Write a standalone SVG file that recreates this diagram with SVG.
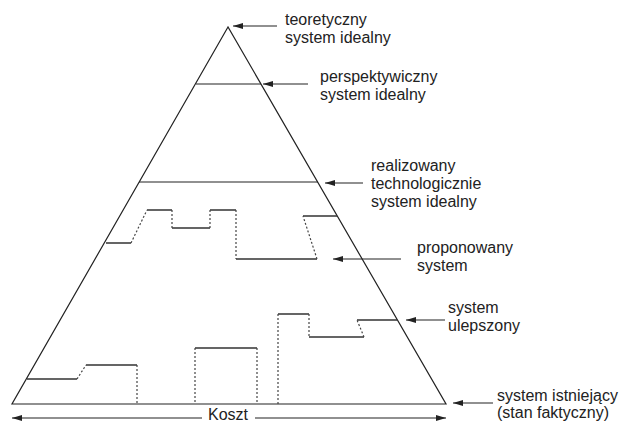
<svg xmlns="http://www.w3.org/2000/svg" width="621" height="421" viewBox="0 0 621 421">
<style>
.ln{stroke:#222;stroke-width:1.2;fill:none}
.st{stroke:#333;stroke-width:1.3;fill:none}
.dt{stroke:#444;stroke-width:1.2;fill:none;stroke-dasharray:2,2}
.ar{stroke:#222;stroke-width:1.1;fill:none;marker-end:url(#ah)}
text{font-family:"Liberation Sans",Arial,sans-serif;font-size:16px;fill:#222}
</style>
<defs>
<marker id="ah" viewBox="0 0 10 6" refX="10" refY="3" markerWidth="10" markerHeight="6" markerUnits="userSpaceOnUse" orient="auto">
<path d="M0,0 L10,3 L0,6 Z" fill="#222"/>
</marker>
</defs>
<rect width="621" height="421" fill="#fff"/>
<g id="pyramid">
<path class="ln" d="M228,27 L12,404 L446,404 Z"/>
<line class="ln" x1="196" y1="84" x2="261" y2="84"/>
<line class="ln" x1="139" y1="182" x2="318" y2="182"/>
</g>
<g id="proponowany-steps">
<path class="st" d="M106,243 H131 M147,210 H172 M172,228 H210 M210,210 H236 M236,259 H317 M303,216 H337"/>
<path class="dt" d="M131,243 L147,210 M172,210 V228 M210,228 V210 M236,210 V259 M317,259 L303,216"/>
</g>
<g id="ulepszony-steps">
<path class="st" d="M278,314 H309 M309,337 H364 M357,320 H397"/>
<path class="dt" d="M278,314 V404 M309,314 V337 M364,337 L357,320"/>
</g>
<g id="istniejacy-steps">
<path class="st" d="M27,379 H77 M86,365 H137 M195,348 H257"/>
<path class="dt" d="M77,379 L86,365 M137,365 V404 M195,348 V404 M257,348 V404"/>
</g>
<g id="connectors">
<line class="ar" x1="277" y1="26" x2="233" y2="26"/>
<line class="ar" x1="308" y1="84" x2="263" y2="84"/>
<line class="ar" x1="363" y1="183" x2="325" y2="183"/>
<line class="ar" x1="401" y1="259" x2="333" y2="259"/>
<line class="ar" x1="445" y1="320" x2="406" y2="320"/>
<line class="ar" x1="493" y1="403" x2="453" y2="403"/>
<line class="ar" x1="202" y1="418" x2="12" y2="418"/>
<line class="ar" x1="255" y1="418" x2="446" y2="418"/>
</g>
<g id="label-teoretyczny">
<text x="285" y="25">teoretyczny</text>
<text x="285" y="43">system idealny</text>
</g>
<g id="label-perspektywiczny">
<text x="320" y="82">perspektywiczny</text>
<text x="320" y="100">system idealny</text>
</g>
<g id="label-realizowany">
<text x="371" y="171">realizowany</text>
<text x="371" y="189">technologicznie</text>
<text x="371" y="207">system idealny</text>
</g>
<g id="label-proponowany">
<text x="417" y="253">proponowany</text>
<text x="417" y="271">system</text>
</g>
<g id="label-ulepszony">
<text x="448" y="313">system</text>
<text x="448" y="331">ulepszony</text>
</g>
<g id="label-istniejacy">
<text x="497" y="401">system istniejący</text>
<text x="497" y="418">(stan faktyczny)</text>
</g>
<g id="label-koszt">
<text x="208" y="420">Koszt</text>
</g>
</svg>
